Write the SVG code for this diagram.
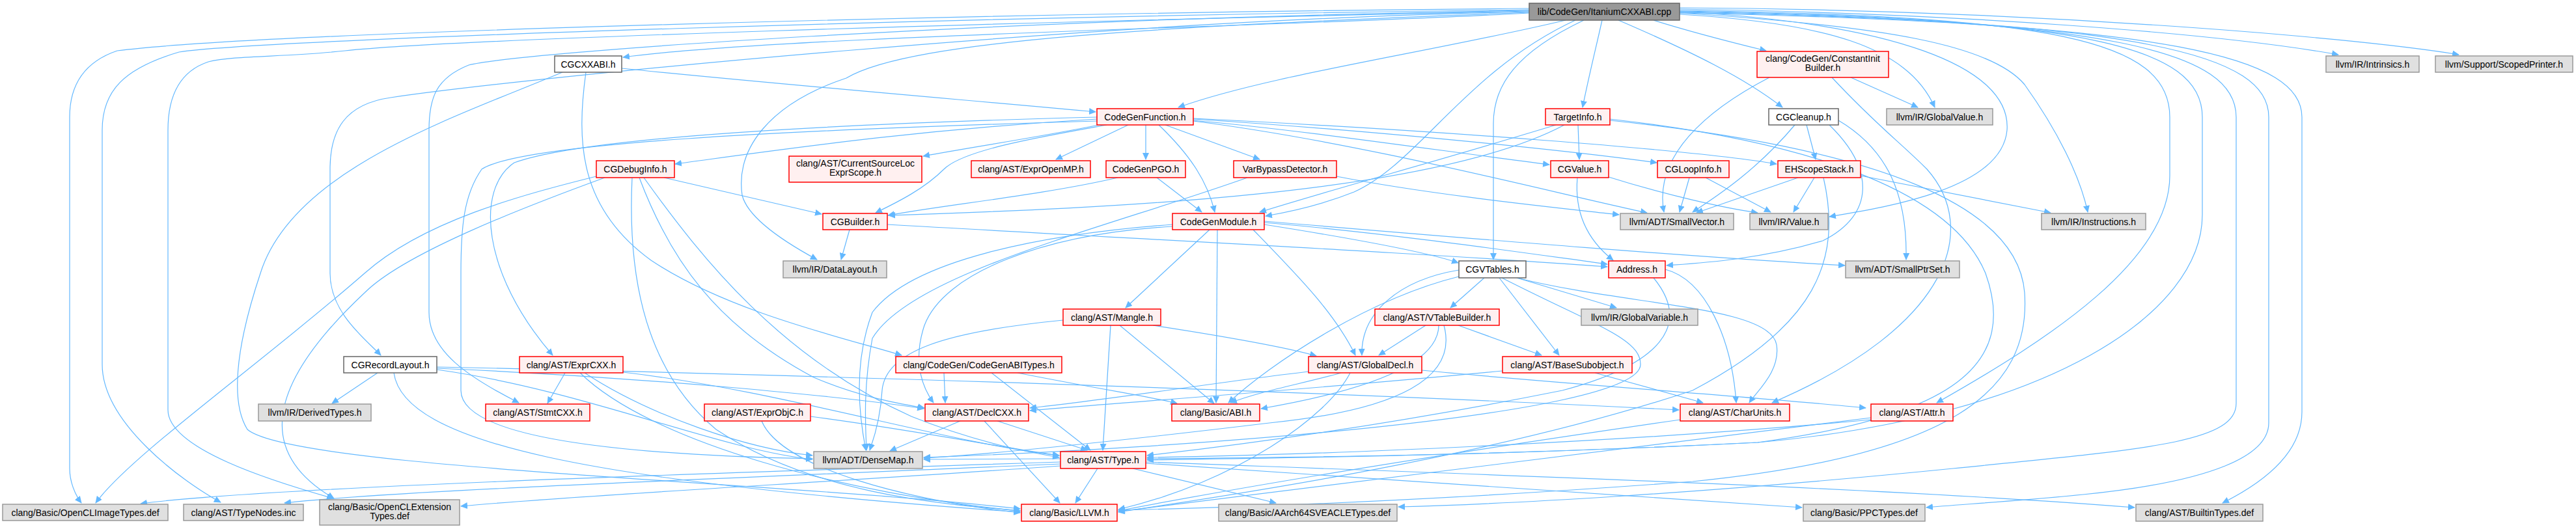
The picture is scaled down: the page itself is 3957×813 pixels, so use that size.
<svg xmlns="http://www.w3.org/2000/svg" width="3957" height="813" viewBox="0 0 3957 813">
<style>
.n rect{stroke-width:1.5}
.r rect{fill:#fff0f0;stroke:#ff0000}
.g rect{fill:#e0e0e0;stroke:#999999}
.w rect{fill:#ffffff;stroke:#666666}
.rt rect{fill:#999999;stroke:#666666}
text{font-family:"Liberation Sans",Arial,sans-serif;font-size:14px;fill:#000;text-anchor:middle}
#edges path{fill:none;stroke:#63b8ff;stroke-width:1.2;marker-end:url(#a)}
</style>
<defs>
<marker id="a" markerWidth="11" markerHeight="10" refX="10" refY="5" orient="auto" markerUnits="userSpaceOnUse"><path d="M0,0 L11,5 L0,10 z" fill="#63b8ff" stroke="none"/></marker>
</defs>
<rect width="3957" height="813" fill="#ffffff"/>
<g id="edges">
<path d="M2349,20 C2000,40 1200,55 957,88"/>
<path d="M2405,31 C2200,80 1950,115 1810,165"/>
<path d="M2461,31 C2450,80 2440,120 2431,165"/>
<path d="M2433,31 C2330,80 2294,130 2294,190 L2294,399"/>
<path d="M2420,31 C2250,110 2180,250 2080,295 C2030,315 1985,325 1944,332"/>
<path d="M2486,31 C2600,80 2680,120 2738,165"/>
<path d="M2540,31 C2600,50 2660,65 2713,78"/>
<path d="M2580,22 C2800,35 2930,70 2972,165"/>
<path d="M2580,20 C2900,40 3060,70 3110,130 C3160,200 3195,270 3207,326"/>
<path d="M2580,18 C2900,35 3090,100 3083,200 C3075,290 2900,318 2810,333"/>
<path d="M2580,14 C3000,20 3400,50 3592,84"/>
<path d="M2580,12 C3100,15 3600,55 3777,84"/>
<path d="M2580,16 C3150,25 3333,60 3333,180 L3333,270 C3333,400 3150,520 2975,619"/>
<path d="M2580,17 C3200,28 3383,70 3383,180 L3383,330 C3383,480 3150,640 2700,680 C2300,700 2000,703 1762,705"/>
<path d="M2580,18 C3250,30 3435,80 3435,180 L3435,620 C3435,680 3300,690 3000,720 C2600,760 2300,775 2148,779"/>
<path d="M2580,19 C3300,32 3485,85 3485,180 L3485,650 C3485,700 3400,740 3200,760 C3100,770 3000,776 2959,780"/>
<path d="M2580,20 C3350,35 3536,90 3536,180 L3536,633 C3536,700 3470,745 3414,773"/>
<path d="M2349,13 C1500,20 400,50 180,78 C130,95 107,130 107,180 L107,720 C107,740 115,760 125,773"/>
<path d="M2349,15 C1500,25 400,60 275,80 C190,105 157,140 157,200 L157,560 C157,650 280,740 339,772"/>
<path d="M2349,17 C1500,35 700,60 530,78 C440,88 360,85 320,95 C275,110 258,150 258,200 L258,630 C258,690 420,740 512,766"/>
<path d="M2349,16 C1500,30 800,80 720,100 C670,120 659,150 659,200 L659,480 C659,540 720,580 797,619"/>
<path d="M2349,19 C1800,40 1400,60 1300,120 C1180,160 1130,230 1140,300 C1150,340 1220,380 1255,399"/>
<path d="M2349,18 C1700,30 800,120 600,150 C530,160 507,200 507,260 L507,420 C507,480 560,520 585,546"/>
<path d="M955,105 C1200,130 1500,155 1683,172"/>
<path d="M900,111 C885,220 890,320 1000,400 C1120,480 1300,520 1385,546"/>
<path d="M864,111 C700,180 450,260 400,420 C360,540 355,620 380,660 C450,720 1200,740 1567,782"/>
<path d="M916,271 C800,300 650,340 560,420 C400,560 200,700 147,773"/>
<path d="M929,273 C800,320 620,390 560,450 C400,600 400,700 513,766"/>
<path d="M1020,273 L1262,329"/>
<path d="M971,273 C965,400 980,560 1100,660 C1250,760 1450,775 1567,785"/>
<path d="M982,273 C1030,400 1100,500 1250,580 C1320,610 1380,620 1420,627"/>
<path d="M989,273 C1080,400 1200,550 1400,640 C1500,680 1580,695 1627,703"/>
<path d="M1685,183 C1400,200 1200,230 1037,252"/>
<path d="M1688,192 C1600,210 1500,225 1418,240"/>
<path d="M1733,192 L1622,245"/>
<path d="M1760,192 L1760,245"/>
<path d="M1790,192 L1935,245"/>
<path d="M1780,192 C1830,240 1855,280 1866,326"/>
<path d="M1700,192 C1600,210 1480,230 1450,260 C1420,290 1380,310 1345,327"/>
<path d="M1833,185 C2000,200 2200,230 2380,253"/>
<path d="M1833,183 C2100,200 2400,230 2545,250"/>
<path d="M1833,182 C2200,200 2600,230 2729,252"/>
<path d="M1833,186 C2100,220 2400,300 2530,327"/>
<path d="M1685,180 C1300,190 900,210 790,250 C730,290 740,420 849,546"/>
<path d="M1685,186 C1200,200 800,220 740,260 C712,300 708,350 708,420 L708,600 C708,680 1000,700 1248,705"/>
<path d="M1942,340 C2300,370 2600,395 2834,408"/>
<path d="M580,573 L510,620"/>
<path d="M671,566 C1000,580 1300,610 1419,628"/>
<path d="M671,568 C900,600 1100,690 1248,706"/>
<path d="M605,573 C620,680 900,740 1567,787"/>
<path d="M671,564 C1200,575 2000,600 2579,630"/>
<path d="M868,573 L841,620"/>
<path d="M891,573 C1000,680 1300,760 1567,785"/>
<path d="M898,573 C1000,640 1150,690 1248,700"/>
<path d="M957,572 C1200,600 1450,680 1627,700"/>
<path d="M1245,640 C1400,660 1550,690 1627,700"/>
<path d="M1170,647 C1200,720 1400,770 1567,788"/>
<path d="M1475,647 L1367,693"/>
<path d="M1532,647 L1670,692"/>
<path d="M1512,647 L1628,773"/>
<path d="M1523,573 L1675,692"/>
<path d="M1563,573 C1700,600 1780,612 1808,620"/>
<path d="M1450,573 L1452,619"/>
<path d="M1706,500 L1694,692"/>
<path d="M1720,500 L1865,620"/>
<path d="M1771,500 C1900,520 1980,535 2022,547"/>
<path d="M1633,492 C1450,510 1360,540 1355,600 C1352,650 1340,680 1336,692"/>
<path d="M1858,353 L1729,473"/>
<path d="M1870,353 L1868,619"/>
<path d="M1942,345 C2100,370 2200,390 2240,404"/>
<path d="M1942,342 C2150,360 2350,390 2469,406"/>
<path d="M1801,345 C1600,360 1400,400 1340,480 C1310,560 1320,640 1330,692"/>
<path d="M1801,348 C1600,360 1450,420 1420,500 C1400,560 1420,600 1434,619"/>
<path d="M1925,353 C1990,420 2050,480 2082,546"/>
<path d="M2280,427 L2228,473"/>
<path d="M2330,427 L2483,473"/>
<path d="M2303,427 L2395,546"/>
<path d="M2241,415 C2150,430 2090,480 2092,546"/>
<path d="M2241,425 C2100,460 1950,560 1887,619"/>
<path d="M2307,427 C2450,500 2520,520 2520,560 C2520,640 1800,690 1419,703"/>
<path d="M2330,427 C2500,470 2720,470 2729,530 C2735,570 2700,600 2687,619"/>
<path d="M2190,500 L2118,546"/>
<path d="M2240,500 L2368,546"/>
<path d="M2210,500 C2210,560 2100,600 1937,628"/>
<path d="M2218,500 C2240,580 2150,630 1950,650 C1700,680 1500,700 1419,704"/>
<path d="M2010,571 C1850,590 1700,615 1582,627"/>
<path d="M2060,573 C2000,590 1940,600 1890,619"/>
<path d="M2074,573 C2040,640 1900,740 1718,783"/>
<path d="M2184,569 C2400,590 2700,610 2866,627"/>
<path d="M2450,573 L2616,619"/>
<path d="M2308,570 C2000,600 1700,620 1582,631"/>
<path d="M2581,645 C2200,700 1900,750 1718,785"/>
<path d="M2874,645 C2500,680 2000,700 1762,703"/>
<path d="M2874,642 C2400,700 2000,750 1718,786"/>
<path d="M1686,720 L1652,773"/>
<path d="M1740,720 L1960,773"/>
<path d="M1760,712 C2200,740 2500,760 2768,780"/>
<path d="M1760,710 C2300,730 2900,750 3279,780"/>
<path d="M1629,710 C1000,730 400,750 216,774"/>
<path d="M1629,713 C1000,740 600,755 437,773"/>
<path d="M1629,716 C1300,740 900,760 708,778"/>
<path d="M1629,705 L1419,706"/>
<path d="M2424,192 L2426,245"/>
<path d="M2403,192 C2200,300 1700,320 1365,331"/>
<path d="M2390,192 C2200,250 2050,290 1935,326"/>
<path d="M2473,183 C2800,220 3000,300 3050,420 C3100,560 3000,640 2700,680 C2300,700 2000,703 1762,707"/>
<path d="M2473,185 C2900,230 3100,320 3110,450 C3120,600 3000,700 2600,740 C2200,770 1900,780 1718,784"/>
<path d="M2423,273 C2418,330 2440,370 2478,400"/>
<path d="M2471,272 C2560,300 2650,320 2700,327"/>
<path d="M2595,273 L2580,326"/>
<path d="M2620,273 L2720,326"/>
<path d="M2762,273 L2606,327"/>
<path d="M2787,273 L2755,326"/>
<path d="M2858,270 L3150,327"/>
<path d="M2801,273 C2830,400 2790,500 2600,600 C2300,700 1900,760 1718,787"/>
<path d="M2775,192 L2789,245"/>
<path d="M2757,192 C2700,260 2640,300 2600,326"/>
<path d="M2824,185 C2900,230 2930,300 2928,399"/>
<path d="M2810,192 C2880,260 2880,330 2800,370 C2700,400 2600,405 2560,408"/>
<path d="M2843,119 L2946,165"/>
<path d="M2718,119 C2620,170 2540,240 2556,326"/>
<path d="M2814,119 C2880,190 2920,220 2960,260 C3040,350 3000,500 2722,619"/>
<path d="M2558,414 C2620,430 2660,520 2667,619"/>
<path d="M2540,427 C2600,500 2550,560 2400,600 C2100,660 1850,690 1762,700"/>
<path d="M1717,273 C1600,300 1450,315 1364,331"/>
<path d="M1777,273 L1846,326"/>
<path d="M1916,273 C1700,350 1400,420 1340,520 C1325,600 1330,660 1331,692"/>
<path d="M2053,271 C2200,300 2400,320 2487,330"/>
<path d="M1305,353 L1292,399"/>
<path d="M1363,345 C1800,370 2200,390 2469,410"/>
</g>
<g id="n0" class="n rt"><rect x="2349" y="5" width="231" height="26"/><text x="2464.5" y="23">lib/CodeGen/ItaniumCXXABI.cpp</text></g>
<g id="n1" class="n w"><rect x="852" y="86" width="103" height="25"/><text x="903.5" y="103.5">CGCXXABI.h</text></g>
<g id="n2" class="n r"><rect x="1685" y="167" width="148" height="25"/><text x="1759" y="184.5">CodeGenFunction.h</text></g>
<g id="n3" class="n r"><rect x="2374" y="167" width="99" height="25"/><text x="2423.5" y="184.5">TargetInfo.h</text></g>
<g id="n4" class="n r"><rect x="2699" y="79" width="202" height="40"/><text x="2800" y="95">clang/CodeGen/ConstantInit</text><text x="2800" y="109">Builder.h</text></g>
<g id="n5" class="n w"><rect x="2717" y="167" width="107" height="25"/><text x="2770.5" y="184.5">CGCleanup.h</text></g>
<g id="n6" class="n g"><rect x="2898" y="167" width="163" height="25"/><text x="2979.5" y="184.5">llvm/IR/GlobalValue.h</text></g>
<g id="n7" class="n g"><rect x="3573" y="86" width="143" height="25"/><text x="3644.5" y="103.5">llvm/IR/Intrinsics.h</text></g>
<g id="n8" class="n g"><rect x="3741" y="86" width="211" height="25"/><text x="3846.5" y="103.5">llvm/Support/ScopedPrinter.h</text></g>
<g id="n9" class="n r"><rect x="916" y="247" width="120" height="26"/><text x="976" y="265">CGDebugInfo.h</text></g>
<g id="n10" class="n r"><rect x="1212" y="240" width="204" height="40"/><text x="1314" y="256">clang/AST/CurrentSourceLoc</text><text x="1314" y="270">ExprScope.h</text></g>
<g id="n11" class="n r"><rect x="1492" y="247" width="183" height="26"/><text x="1583.5" y="265">clang/AST/ExprOpenMP.h</text></g>
<g id="n12" class="n r"><rect x="1699" y="247" width="122" height="26"/><text x="1760" y="265">CodeGenPGO.h</text></g>
<g id="n13" class="n r"><rect x="1895" y="247" width="158" height="26"/><text x="1974" y="265">VarBypassDetector.h</text></g>
<g id="n14" class="n r"><rect x="2382" y="247" width="89" height="26"/><text x="2426.5" y="265">CGValue.h</text></g>
<g id="n15" class="n r"><rect x="2546" y="247" width="110" height="26"/><text x="2601" y="265">CGLoopInfo.h</text></g>
<g id="n16" class="n r"><rect x="2731" y="247" width="127" height="26"/><text x="2794.5" y="265">EHScopeStack.h</text></g>
<g id="n17" class="n r"><rect x="1264" y="328" width="99" height="25"/><text x="1313.5" y="345.5">CGBuilder.h</text></g>
<g id="n18" class="n r"><rect x="1801" y="328" width="141" height="25"/><text x="1871.5" y="345.5">CodeGenModule.h</text></g>
<g id="n19" class="n g"><rect x="2489" y="328" width="174" height="25"/><text x="2576" y="345.5">llvm/ADT/SmallVector.h</text></g>
<g id="n20" class="n g"><rect x="2688" y="328" width="120" height="25"/><text x="2748" y="345.5">llvm/IR/Value.h</text></g>
<g id="n21" class="n g"><rect x="3136" y="328" width="160" height="25"/><text x="3216" y="345.5">llvm/IR/Instructions.h</text></g>
<g id="n22" class="n g"><rect x="1203" y="401" width="159" height="26"/><text x="1282.5" y="419">llvm/IR/DataLayout.h</text></g>
<g id="n23" class="n w"><rect x="2241" y="401" width="103" height="26"/><text x="2292.5" y="419">CGVTables.h</text></g>
<g id="n24" class="n r"><rect x="2471" y="401" width="87" height="26"/><text x="2514.5" y="419">Address.h</text></g>
<g id="n25" class="n g"><rect x="2835" y="401" width="175" height="26"/><text x="2922.5" y="419">llvm/ADT/SmallPtrSet.h</text></g>
<g id="n26" class="n r"><rect x="1633" y="475" width="150" height="25"/><text x="1708" y="492.5">clang/AST/Mangle.h</text></g>
<g id="n27" class="n r"><rect x="2112" y="475" width="191" height="25"/><text x="2207.5" y="492.5">clang/AST/VTableBuilder.h</text></g>
<g id="n28" class="n g"><rect x="2429" y="475" width="179" height="25"/><text x="2518.5" y="492.5">llvm/IR/GlobalVariable.h</text></g>
<g id="n29" class="n w"><rect x="528" y="548" width="143" height="25"/><text x="599.5" y="565.5">CGRecordLayout.h</text></g>
<g id="n30" class="n r"><rect x="798" y="548" width="159" height="25"/><text x="877.5" y="565.5">clang/AST/ExprCXX.h</text></g>
<g id="n31" class="n r"><rect x="1376" y="548" width="255" height="25"/><text x="1503.5" y="565.5">clang/CodeGen/CodeGenABITypes.h</text></g>
<g id="n32" class="n r"><rect x="2010" y="548" width="174" height="25"/><text x="2097" y="565.5">clang/AST/GlobalDecl.h</text></g>
<g id="n33" class="n r"><rect x="2308" y="548" width="199" height="25"/><text x="2407.5" y="565.5">clang/AST/BaseSubobject.h</text></g>
<g id="n34" class="n g"><rect x="397" y="621" width="173" height="26"/><text x="483.5" y="639">llvm/IR/DerivedTypes.h</text></g>
<g id="n35" class="n r"><rect x="746" y="621" width="160" height="26"/><text x="826" y="639">clang/AST/StmtCXX.h</text></g>
<g id="n36" class="n r"><rect x="1082" y="621" width="163" height="26"/><text x="1163.5" y="639">clang/AST/ExprObjC.h</text></g>
<g id="n37" class="n r"><rect x="1421" y="621" width="159" height="26"/><text x="1500.5" y="639">clang/AST/DeclCXX.h</text></g>
<g id="n38" class="n r"><rect x="1800" y="621" width="135" height="26"/><text x="1867.5" y="639">clang/Basic/ABI.h</text></g>
<g id="n39" class="n r"><rect x="2581" y="621" width="168" height="26"/><text x="2665" y="639">clang/AST/CharUnits.h</text></g>
<g id="n40" class="n r"><rect x="2874" y="621" width="126" height="26"/><text x="2937" y="639">clang/AST/Attr.h</text></g>
<g id="n41" class="n g"><rect x="1250" y="694" width="167" height="26"/><text x="1333.5" y="712">llvm/ADT/DenseMap.h</text></g>
<g id="n42" class="n r"><rect x="1629" y="694" width="131" height="26"/><text x="1694.5" y="712">clang/AST/Type.h</text></g>
<g id="n43" class="n g"><rect x="4" y="775" width="254" height="25"/><text x="131" y="792.5">clang/Basic/OpenCLImageTypes.def</text></g>
<g id="n44" class="n g"><rect x="282" y="775" width="184" height="25"/><text x="374" y="792.5">clang/AST/TypeNodes.inc</text></g>
<g id="n45" class="n g"><rect x="491" y="768" width="215" height="39"/><text x="598.5" y="784">clang/Basic/OpenCLExtension</text><text x="598.5" y="798">Types.def</text></g>
<g id="n46" class="n r"><rect x="1569" y="775" width="147" height="26"/><text x="1642.5" y="793">clang/Basic/LLVM.h</text></g>
<g id="n47" class="n g"><rect x="1872" y="775" width="274" height="26"/><text x="2009" y="793">clang/Basic/AArch64SVEACLETypes.def</text></g>
<g id="n48" class="n g"><rect x="2770" y="775" width="187" height="26"/><text x="2863.5" y="793">clang/Basic/PPCTypes.def</text></g>
<g id="n49" class="n g"><rect x="3281" y="775" width="195" height="26"/><text x="3378.5" y="793">clang/AST/BuiltinTypes.def</text></g>
</svg>
